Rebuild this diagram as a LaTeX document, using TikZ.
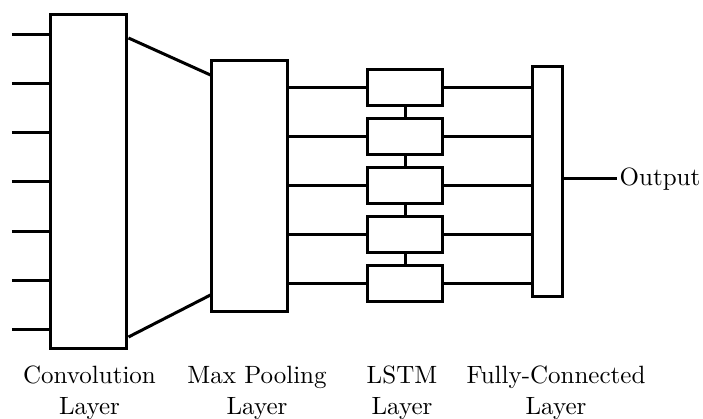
\documentclass[tikz,border=0pt]{standalone}
\usepackage{amsmath,amssymb}
\usepackage{tikz}
\usetikzlibrary{positioning}

\begin{document}
\begin{tikzpicture}[
            x=0.4pt, y=-0.4pt,
            blk/.style={rectangle, draw, inner sep=0pt},
            cell/.style={blk, minimum width=30pt, minimum height=14.4pt},
            lbl/.style={anchor=north, inner sep=0pt, align=center, font=\fontsize{10}{12.4}\selectfont},
            line width=1.2pt
        ]
        \useasboundingbox (0,0) rectangle (703,419);

        % Layer blocks
        \node[blk, minimum width=30.4pt, minimum height=133.6pt] (conv) at (89,182)    {};
        \node[blk, minimum width=30.4pt, minimum height=100.4pt] (pool) at (250,186.5) {};
        \node[blk, minimum width=12pt,   minimum height=92pt]    (fc)   at (548,182)   {};

        % LSTM cells
        \node[cell] (c1) at (405.5,88)    {};
        \node[cell] (c2) at (405.5,136.8) {};
        \node[cell] (c3) at (405.5,185.6) {};
        \node[cell] (c4) at (405.5,234.4) {};
        \node[cell] (c5) at (405.5,283.2) {};

        % Input ends
        \coordinate (i1) at (12,34.1);
        \coordinate (i2) at (12,83.4);
        \coordinate (i3) at (12,132.7);
        \coordinate (i4) at (12,182);
        \coordinate (i5) at (12,231.3);
        \coordinate (i6) at (12,280.6);
        \coordinate (i7) at (12,329.9);

        % Output
        \node[anchor=west, inner sep=0.5pt] (out) at (617,179) {Output};

        % Inputs -> convolution
        \draw (i1) -- (i1 -| conv.west);
        \draw (i2) -- (i2 -| conv.west);
        \draw (i3) -- (i3 -| conv.west);
        \draw (i4) -- (i4 -| conv.west);
        \draw (i5) -- (i5 -| conv.west);
        \draw (i6) -- (i6 -| conv.west);
        \draw (i7) -- (i7 -| conv.west);

        % Convolution -> pooling
        \draw (conv.east |- 0,38)  -- (pool.west |- 0,75);
        \draw (conv.east |- 0,337) -- (pool.west |- 0,295);

        % Pooling -> LSTM -> fully connected
        \draw (pool.east |- c1.west) -- (c1.west);
        \draw (pool.east |- c2.west) -- (c2.west);
        \draw (pool.east |- c3.west) -- (c3.west);
        \draw (pool.east |- c4.west) -- (c4.west);
        \draw (pool.east |- c5.west) -- (c5.west);
        \draw (c1.east) -- (c1.east -| fc.west);
        \draw (c2.east) -- (c2.east -| fc.west);
        \draw (c3.east) -- (c3.east -| fc.west);
        \draw (c4.east) -- (c4.east -| fc.west);
        \draw (c5.east) -- (c5.east -| fc.west);

        % Recurrent links
        \draw (c1.south) -- (c2.north);
        \draw (c2.south) -- (c3.north);
        \draw (c3.south) -- (c4.north);
        \draw (c4.south) -- (c5.north);

        % Fully connected -> output
        \draw (fc.east |- out.west) -- (out.west);

        % Layer names
        \node[lbl] (lconv) at (89.5,364.6) {Convolution\\Layer};
        \node[lbl] (lpool) at (257,364.6)  {Max Pooling\\Layer};
        \node[lbl] (llstm) at (402,364.6)  {LSTM\\Layer};
        \node[lbl] (lfc)   at (556,364.6)  {Fully-Connected\\Layer};
    \end{tikzpicture}
\end{document}
